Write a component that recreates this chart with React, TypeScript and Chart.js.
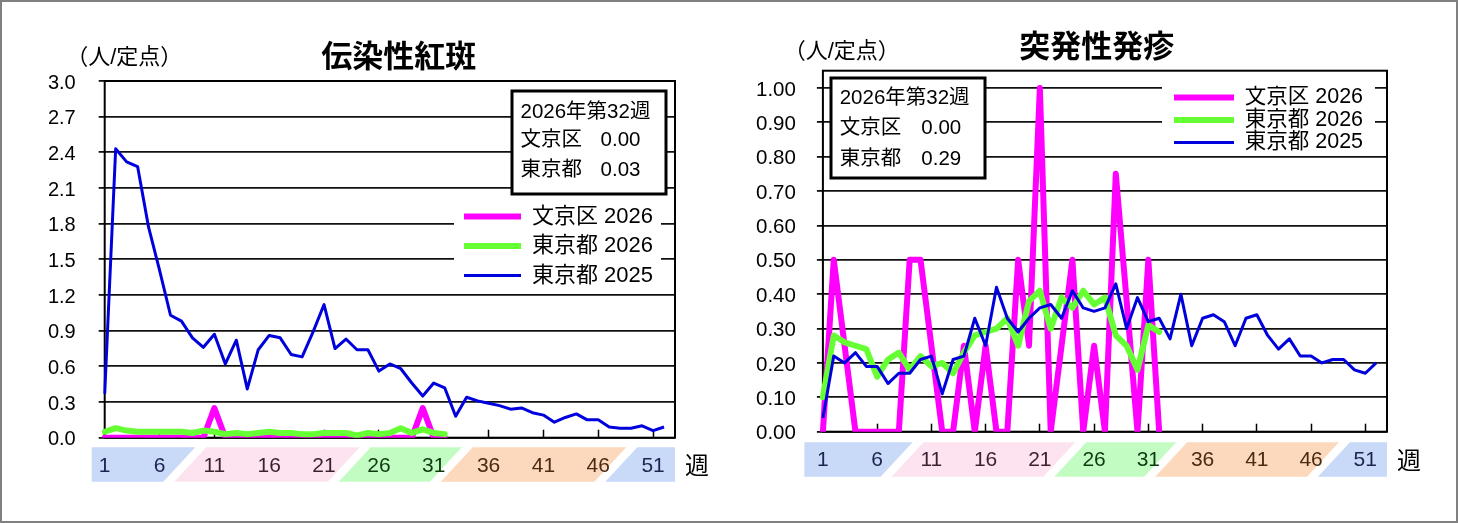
import React, { useEffect, useRef } from 'react';
import { Chart, registerables } from 'chart.js';

Chart.register(...registerables);

// ---------- data ----------
const WEEKS = [
  '1', '2', '3', '4', '5', '6', '7', '8', '9', '10',
  '11', '12', '13', '14', '15', '16', '17', '18', '19', '20',
  '21', '22', '23', '24', '25', '26', '27', '28', '29', '30',
  '31', '32', '33', '34', '35', '36', '37', '38', '39', '40',
  '41', '42', '43', '44', '45', '46', '47', '48', '49', '50',
  '51', '52', '53',
];
const TICK_WEEKS = ['1', '6', '11', '16', '21', '26', '31', '36', '41', '46', '51'];
const SERIES_NAMES = ['文京区 2026', '東京都 2026', '東京都 2025'];
const INFO_WEEK = '2026年第32週';
const INFO_AREAS = ['文京区', '東京都'];
const UNIT_LABEL = '（人/定点）';
const WEEK_UNIT = '週';
// week positions where the season colour band changes
const SEASON_BOUNDS = [8.3, 23.3, 32.6, 47.6];

// 伝染性紅斑
const ER_TITLE = '伝染性紅斑';
const ER_BUNKYO_2026 = [0, 0, 0, 0, 0, 0, 0, 0, 0, 0, 0.25, 0, 0, 0, 0, 0, 0, 0, 0, 0, 0, 0, 0, 0, 0, 0, 0, 0, 0, 0.25, 0, 0];
const ER_TOKYO_2026 = [0.05, 0.08, 0.06, 0.05, 0.05, 0.05, 0.05, 0.05, 0.04, 0.06, 0.05, 0.03, 0.04, 0.03, 0.04, 0.05, 0.04, 0.04, 0.03, 0.03, 0.04, 0.04, 0.04, 0.02, 0.04, 0.03, 0.04, 0.08, 0.04, 0.07, 0.04, 0.03];
const ER_TOKYO_2025 = [0.37, 2.43, 2.32, 2.28, 1.77, 1.41, 1.03, 0.98, 0.84, 0.76, 0.87, 0.62, 0.82, 0.41, 0.74, 0.86, 0.84, 0.70, 0.68, 0.89, 1.12, 0.75, 0.83, 0.74, 0.74, 0.56, 0.62, 0.58, 0.46, 0.35, 0.46, 0.42, 0.18, 0.34, 0.31, 0.29, 0.27, 0.24, 0.25, 0.21, 0.19, 0.13, 0.17, 0.20, 0.15, 0.15, 0.09, 0.08, 0.08, 0.10, 0.06, 0.09];
const ER_INFO_VALUES = ['0.00', '0.03'];
const ER_Y_TICKS = [0, 0.3, 0.6, 0.9, 1.2, 1.5, 1.8, 2.1, 2.4, 2.7, 3.0];
const ER_Y_MAX = 3.0;

// 突発性発疹
const ES_TITLE = '突発性発疹';
const ES_BUNKYO_2026 = [0, 0.5, 0.25, 0, 0, 0, 0, 0, 0.5, 0.5, 0.25, 0, 0, 0.25, 0, 0.25, 0, 0, 0.5, 0.25, 1.0, 0, 0.25, 0.5, 0, 0.25, 0, 0.75, 0.38, 0, 0.5, 0];
const ES_TOKYO_2026 = [0.10, 0.28, 0.26, 0.25, 0.24, 0.16, 0.21, 0.23, 0.18, 0.22, 0.19, 0.20, 0.17, 0.23, 0.28, 0.29, 0.30, 0.33, 0.25, 0.38, 0.41, 0.30, 0.39, 0.36, 0.41, 0.37, 0.39, 0.28, 0.25, 0.18, 0.31, 0.29];
const ES_TOKYO_2025 = [0.04, 0.22, 0.20, 0.23, 0.19, 0.19, 0.14, 0.17, 0.17, 0.21, 0.22, 0.11, 0.21, 0.22, 0.33, 0.25, 0.42, 0.33, 0.29, 0.33, 0.36, 0.37, 0.33, 0.41, 0.36, 0.35, 0.36, 0.43, 0.30, 0.39, 0.32, 0.33, 0.27, 0.40, 0.25, 0.33, 0.34, 0.32, 0.25, 0.33, 0.34, 0.28, 0.24, 0.27, 0.22, 0.22, 0.20, 0.21, 0.21, 0.18, 0.17, 0.20];
const ES_INFO_VALUES = ['0.00', '0.29'];
const ES_Y_TICKS = [0, 0.1, 0.2, 0.3, 0.4, 0.5, 0.6, 0.7, 0.8, 0.9, 1.0];
const ES_Y_MAX = 1.05;

// ---------- styles ----------
const SERIES_COLORS = ['#ff00ff', '#66ff33', '#0000dc'];
const SERIES_WIDTHS = [6, 6, 3];
const SEASON_FILL = ['#c9d9f8', '#fde3ef', '#c2fcc2', '#fcd8bd', '#c9d9f8'];
const SEASON_TEXT = ['#1c2450', '#3c1f30', '#0e3a10', '#4a2a12', '#1c2450'];
const FONT = "'Liberation Sans', 'Noto Sans CJK JP', sans-serif";
const CJK = "'Noto Sans CJK JP', sans-serif";
const CW = 729;
const CH = 523;

function seasonOf(week: number) {
  let k = 0;
  for (const b of SEASON_BOUNDS) if (week > b) k++;
  return k;
}

type Geo = {
  plot: { l: number; t: number; r: number; b: number };
  yPad: number;
  yFont: number;
  yDecimals: number;
  bandTop: number;
  bandLeftPad: number;
  title: { x: number; y: number };
  unit: { x: number; y: number };
  info: { x: number; y: number; w: number; h: number; rows: number[]; lx: number; vx: number };
  legend: { left: number; top: number; padding: number; font: number; lineW: number; box: { x: number; y: number; w: number; h: number } };
};

const ER_GEO: Geo = {
  plot: { l: 104.7, t: 81, r: 675, b: 437.7 },
  yPad: 23,
  yFont: 20,
  yDecimals: 1,
  bandTop: 9.6,
  bandLeftPad: 13,
  title: { x: 398.8, y: 55 },
  unit: { x: 124.2, y: 58.3 },
  info: { x: 512, y: 91, w: 154, h: 103, rows: [112.3, 140, 170.7], lx: 520.5, vx: 600.6 },
  legend: { left: 456.5, top: 198, padding: 7.5, font: 22, lineW: 57, box: { x: 454, y: 196, w: 207, h: 96 } },
};

const ES_GEO: Geo = {
  plot: { l: 93.9, t: 70.7, r: 658, b: 431.7 },
  yPad: 21,
  yFont: 20.5,
  yDecimals: 2,
  bandTop: 10.6,
  bandLeftPad: 18.5,
  title: { x: 367.8, y: 45.5 },
  unit: { x: 112.7, y: 51.7 },
  info: { x: 102, y: 78, w: 154, h: 100, rows: [98.3, 128.3, 159], lx: 110.7, vx: 192.3 },
  legend: { left: 444, top: 85.8, padding: 1, font: 21.5, lineW: 60, box: { x: 433, y: 81, w: 213, h: 71 } },
};

function makeDecor(geo: Geo, title: string, infoValues: string[]) {
  return {
    id: 'decor',
    beforeDraw(chart: any) {
      const { ctx } = chart;
      const a = chart.chartArea;
      const xs = chart.scales.x;
      ctx.save();
      ctx.fillStyle = '#fff';
      ctx.fillRect(0, 0, chart.width, chart.height);
      const top = a.bottom + geo.bandTop;
      const bot = top + 34.4;
      const slant = 32;
      const gap = 11;
      const edges = SEASON_BOUNDS.map((b) => xs.getPixelForValue(b - 1));
      const n = SEASON_FILL.length;
      for (let k = 0; k < n; k++) {
        let ltx, lbx, rtx, rbx;
        if (k === 0) {
          ltx = lbx = a.left - geo.bandLeftPad;
        } else {
          const m = edges[k - 1] + gap / 2;
          ltx = m + slant / 2;
          lbx = m - slant / 2;
        }
        if (k === n - 1) {
          rtx = rbx = a.right;
        } else {
          const m = edges[k] - gap / 2;
          rtx = m + slant / 2;
          rbx = m - slant / 2;
        }
        ctx.beginPath();
        ctx.moveTo(lbx, bot);
        ctx.lineTo(ltx, top);
        ctx.lineTo(rtx, top);
        ctx.lineTo(rbx, bot);
        ctx.closePath();
        ctx.fillStyle = SEASON_FILL[k];
        ctx.fill();
      }
      ctx.restore();
    },
    afterLayout(chart: any) {
      const lg = chart.legend;
      if (!lg) return;
      lg.left = geo.legend.left;
      lg.top = geo.legend.top;
      lg.right = geo.legend.left + 320;
      lg.bottom = geo.legend.top + 200;
    },
    beforeDatasetsDraw(chart: any) {
      const { ctx } = chart;
      const a = chart.chartArea;
      ctx.save();
      ctx.strokeStyle = '#000';
      ctx.lineWidth = 2;
      ctx.strokeRect(a.left, a.top, a.right - a.left, a.bottom - a.top);
      const L = geo.legend.box;
      ctx.fillStyle = '#fff';
      ctx.fillRect(L.x, L.y, L.w, L.h);
      ctx.restore();
      if (chart.legend) chart.legend.draw();
      // info box
      const I = geo.info;
      ctx.save();
      ctx.fillStyle = '#fff';
      ctx.fillRect(I.x, I.y, I.w, I.h);
      ctx.strokeStyle = '#000';
      ctx.lineWidth = 3;
      ctx.strokeRect(I.x, I.y, I.w, I.h);
      ctx.fillStyle = '#000';
      ctx.textBaseline = 'middle';
      ctx.textAlign = 'left';
      ctx.font = `20.5px ${FONT}`;
      ctx.fillText(INFO_WEEK, I.lx, I.rows[0]);
      INFO_AREAS.forEach((name, i) => {
        ctx.fillText(name, I.lx, I.rows[i + 1]);
        ctx.fillText(infoValues[i], I.vx, I.rows[i + 1]);
      });
      ctx.restore();
    },
    afterDraw(chart: any) {
      const { ctx } = chart;
      const a = chart.chartArea;
      ctx.save();
      ctx.fillStyle = '#000';
      ctx.textBaseline = 'middle';
      ctx.textAlign = 'center';
      ctx.font = `bold 31px ${CJK}`;
      ctx.fillText(title, geo.title.x, geo.title.y);
      ctx.font = `22px ${FONT}`;
      ctx.fillText(UNIT_LABEL, geo.unit.x, geo.unit.y);
      ctx.font = `24px ${CJK}`;
      ctx.fillText(WEEK_UNIT, a.right + 22, a.bottom + geo.bandTop + 18);
      ctx.restore();
    },
  };
}

type Props = {
  left: number;
  geo: Geo;
  title: string;
  series: number[][];
  yTicks: number[];
  yMax: number;
  infoValues: string[];
};

function DiseaseChart({ left, geo, title, series, yTicks, yMax, infoValues }: Props) {
  const ref = useRef<HTMLCanvasElement>(null);
  useEffect(() => {
    const canvas = ref.current;
    if (!canvas) return;
    const chart = new Chart(canvas, {
      type: 'line',
      data: {
        labels: WEEKS,
        datasets: series.map((d, i) => ({
          label: SERIES_NAMES[i],
          data: d,
          borderColor: SERIES_COLORS[i],
          backgroundColor: SERIES_COLORS[i],
          borderWidth: SERIES_WIDTHS[i],
          pointRadius: 0,
          pointHoverRadius: 0,
          tension: 0,
          fill: false,
          order: 3 - i,
          borderCapStyle: i < 2 ? 'round' : 'butt',
          borderJoinStyle: 'round',
        })),
      },
      options: {
        responsive: false,
        animation: false,
        events: [],
        layout: {
          padding: { left: 0, top: geo.plot.t, right: CW - geo.plot.r, bottom: CH - geo.plot.b - 50 },
        },
        plugins: {
          title: { display: false },
          tooltip: { enabled: false },
          legend: {
            display: true,
            position: 'chartArea',
            align: 'start',
            labels: {
              usePointStyle: true,
              pointStyle: 'line',
              pointStyleWidth: geo.legend.lineW,
              boxWidth: geo.legend.lineW,
              padding: geo.legend.padding,
              color: '#000',
              font: { size: geo.legend.font, family: FONT },
              sort: (a: any, b: any) => a.datasetIndex - b.datasetIndex,
            },
          },
        },
        scales: {
          x: {
            type: 'category',
            offset: false,
            border: { display: false },
            grid: {
              offset: false,
              drawOnChartArea: false,
              drawTicks: true,
              tickLength: -8,
              tickColor: '#000',
              tickWidth: (c: any) => (c.index % 5 === 0 ? 1.5 : 0),
            },
            ticks: {
              autoSkip: false,
              maxRotation: 0,
              minRotation: 0,
              padding: 24,
              font: { size: 21, family: FONT },
              color: (c: any) => SEASON_TEXT[seasonOf(c.index + 1)],
              callback: (_v: any, i: number) => (TICK_WEEKS.includes(WEEKS[i]) ? WEEKS[i] : ''),
            },
            afterFit: (s: any) => {
              s.height = 50;
            },
          },
          y: {
            type: 'linear',
            min: 0,
            max: yMax,
            bounds: 'data',
            border: { display: false },
            grid: { color: '#111', lineWidth: 1.8, drawTicks: true, tickLength: 6, tickColor: '#111', tickWidth: 1.8 },
            ticks: {
              padding: geo.yPad,
              labelOffset: 2,
              color: '#000',
              font: { size: geo.yFont, family: FONT },
              callback: (v: any) => Number(v).toFixed(geo.yDecimals),
            },
            afterBuildTicks: (s: any) => {
              s.ticks = yTicks.map((v) => ({ value: v }));
            },
            afterFit: (s: any) => {
              s.width = geo.plot.l;
            },
          },
        },
      } as any,
      plugins: [makeDecor(geo, title, infoValues)],
    });
    return () => chart.destroy();
  }, []);
  return (
    <canvas
      ref={ref}
      width={CW}
      height={CH}
      style={{ position: 'absolute', left, top: 0, width: CW, height: CH }}
    />
  );
}

export default function App() {
  useEffect(() => {
    document.body.style.margin = '0';
  }, []);
  return (
    <div style={{ position: 'relative', width: 1458, height: 523, background: '#fff', overflow: 'hidden' }}>
      <DiseaseChart
        left={0}
        geo={ER_GEO}
        title={ER_TITLE}
        series={[ER_BUNKYO_2026, ER_TOKYO_2026, ER_TOKYO_2025]}
        yTicks={ER_Y_TICKS}
        yMax={ER_Y_MAX}
        infoValues={ER_INFO_VALUES}
      />
      <DiseaseChart
        left={CW}
        geo={ES_GEO}
        title={ES_TITLE}
        series={[ES_BUNKYO_2026, ES_TOKYO_2026, ES_TOKYO_2025]}
        yTicks={ES_Y_TICKS}
        yMax={ES_Y_MAX}
        infoValues={ES_INFO_VALUES}
      />
      <div
        style={{
          position: 'absolute',
          left: 0,
          top: 0,
          width: 1458,
          height: 523,
          boxSizing: 'border-box',
          border: '2px solid #808080',
          pointerEvents: 'none',
        }}
      />
    </div>
  );
}
